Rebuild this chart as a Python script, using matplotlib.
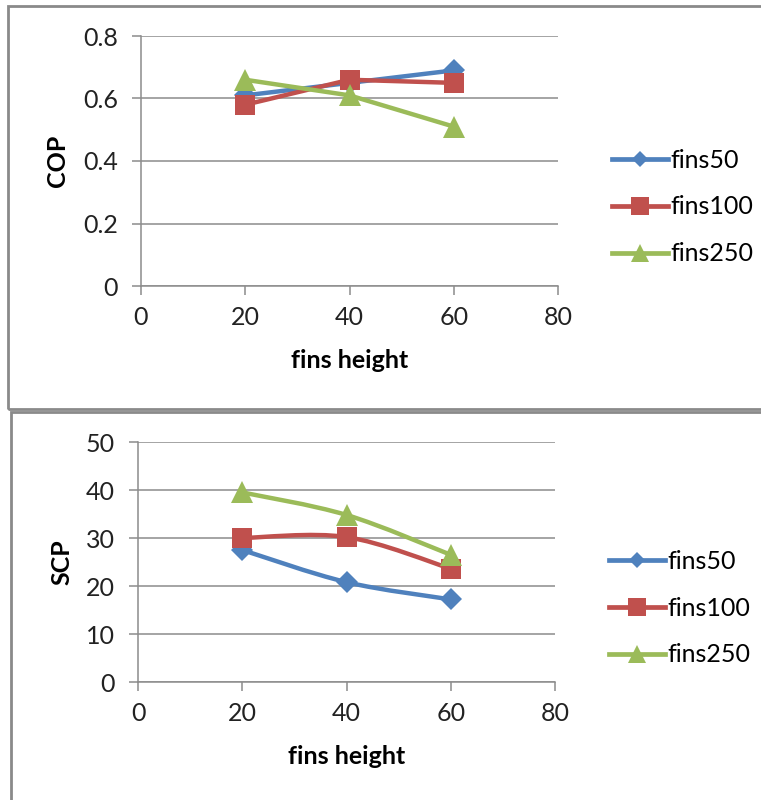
#!/usr/bin/env python3
import numpy as np
import matplotlib.pyplot as plt
from matplotlib.path import Path
from matplotlib.patches import PathPatch, Rectangle
from matplotlib.lines import Line2D

fins_height = [20, 40, 60]
series_names = ['fins50', 'fins100', 'fins250']

cop_fins50 = [0.61, 0.65, 0.69]
cop_fins100 = [0.58, 0.66, 0.65]
cop_fins250 = [0.66, 0.61, 0.51]

scp_fins50 = [27.5, 20.8, 17.2]
scp_fins100 = [30.0, 30.2, 23.6]
scp_fins250 = [39.5, 34.8, 26.5]

colors = ['#4F81BD', '#C0504D', '#9BBB59']
markers = ['D', 's', '^']
marker_sizes = [11, 15, 16]
legend_marker_sizes = [8, 13, 13]

plt.rcParams['font.family'] = ['Lato', 'DejaVu Sans']
plt.rcParams['font.size'] = 18

W, H = 761, 800
fig = plt.figure(figsize=(W / 100, H / 100), dpi=100)


def smooth_path(x, y):
    # Catmull-Rom style bezier through the points (like Excel's smoothed line)
    pts = np.column_stack([x, y]).astype(float)
    n = len(pts)
    verts = [pts[0]]
    codes = [Path.MOVETO]
    for i in range(n - 1):
        p_prev = pts[max(i - 1, 0)]
        p0 = pts[i]
        p1 = pts[i + 1]
        p_next = pts[min(i + 2, n - 1)]
        c1 = p0 + (p1 - p_prev) / 6
        c2 = p1 - (p_next - p0) / 6
        verts += [c1, c2, p1]
        codes += [Path.CURVE4] * 3
    return Path(verts, codes)


def style_axes(ax, ymax, ystep, ylabel, ylabel_x, xlabel_y):
    ax.set_xlim(0, 80)
    ax.set_ylim(0, ymax)
    ax.set_xticks([0, 20, 40, 60, 80])
    ax.set_yticks(np.arange(0, ymax + ystep / 2, ystep))
    if ystep < 1:
        ax.set_yticklabels([f'{v:g}' for v in np.arange(0, ymax + ystep / 2, ystep)])
    ax.grid(axis='y', color='#8c8c8c', linewidth=1.1)
    ax.set_axisbelow(True)
    for side in ['top', 'right']:
        ax.spines[side].set_visible(False)
    for side in ['left', 'bottom']:
        ax.spines[side].set_color('#8c8c8c')
        ax.spines[side].set_linewidth(1.1)
    ax.tick_params(axis='both', colors='#8c8c8c', labelcolor='#222222',
                   length=6.5, width=1.1, labelsize=18)
    ax.tick_params(axis='y', pad=10)
    ax.tick_params(axis='x', pad=8)
    ax.set_xlabel('fins height', fontweight='bold', fontsize=18)
    ax.set_ylabel(ylabel, fontweight='bold', fontsize=18)
    ax.xaxis.set_label_coords(0.5, xlabel_y)
    ax.xaxis.label.set_va('center')
    ax.yaxis.set_label_coords(ylabel_x, 0.5)
    ax.yaxis.label.set_va('center')


def add_legend(ax, x, y):
    handles = [Line2D([], [], color=c, lw=3.4, marker=m, markersize=s, mew=0)
               for c, m, s in zip(colors, markers, legend_marker_sizes)]
    fig.legend(handles, series_names, loc='center left',
               bbox_to_anchor=(x / W, 1 - y / H), frameon=False,
               borderpad=0, borderaxespad=0, handlelength=2.25,
               handletextpad=0.1, labelspacing=0.95, fontsize=18)


# chart frames
fig.add_artist(Rectangle((8 / W, 1 - 409 / H), (W - 4) / W, 403 / H,
                         transform=fig.transFigure, fill=False,
                         edgecolor='#8a8a8a', linewidth=2))
fig.add_artist(Rectangle((11 / W, -0.01), 1, 1 - 412 / H + 0.01,
                         transform=fig.transFigure, fill=False,
                         edgecolor='#8a8a8a', linewidth=2))

# COP chart
ax1 = fig.add_axes([141 / W, 1 - 286 / H, 417 / W, 250 / H])
for vals, c, m, s in zip([cop_fins50, cop_fins100, cop_fins250], colors, markers, marker_sizes):
    ax1.plot(fins_height, vals, color=c, lw=3.2, marker=m, markersize=s, mew=0,
             clip_on=False)
style_axes(ax1, 0.8, 0.2, 'COP', -0.2, -0.296)
add_legend(ax1, 612, 207)

# SCP chart (smoothed lines)
ax2 = fig.add_axes([138 / W, 1 - 682 / H, 417 / W, 240 / H])
for vals, c, m, s in zip([scp_fins50, scp_fins100, scp_fins250], colors, markers, marker_sizes):
    ax2.add_patch(PathPatch(smooth_path(fins_height, vals), facecolor='none',
                            edgecolor=c, lw=3.2, capstyle='round', joinstyle='round'))
    ax2.plot(fins_height, vals, linestyle='none', marker=m, markersize=s,
             color=c, mew=0, clip_on=False)
style_axes(ax2, 50, 10, 'SCP', -0.183, -0.3125)
add_legend(ax2, 609, 608)

fig.savefig('out.png', dpi=100)
